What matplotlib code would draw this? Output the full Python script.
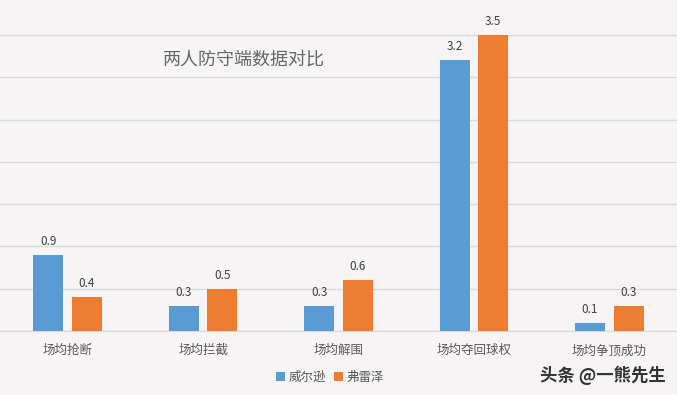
import matplotlib.pyplot as plt
import numpy as np

plt.rcParams['font.family'] = ['Noto Sans CJK SC', 'DejaVu Sans']

categories = ['场均抢断', '场均拦截', '场均解围', '场均夺回球权', '场均争顶成功']
wilson = [0.9, 0.3, 0.3, 3.2, 0.1]
fraser = [0.4, 0.5, 0.6, 3.5, 0.3]
series_names = ['威尔逊', '弗雷泽']

blue = '#5B9BD5'
orange = '#ED7D31'
bg = '#F6F4F4'

fig = plt.figure(figsize=(6.77, 3.95), dpi=100, facecolor=bg)
ax = fig.add_axes([0, 64 / 395, 1, 331 / 395])
ax.set_facecolor(bg)

x = np.arange(len(categories))
w = 0.222
b1 = ax.bar(x - 0.143, wilson, w, color=blue, label=series_names[0], zorder=3)
b2 = ax.bar(x + 0.143, fraser, w, color=orange, label=series_names[1], zorder=3)

for bars, vals in ((b1, wilson), (b2, fraser)):
    for r, v in zip(bars, vals):
        ax.annotate(f'{v}', (r.get_x() + r.get_width() / 2, v),
                    xytext=(0, 5), textcoords='offset points',
                    ha='center', va='bottom', fontsize=8.5, color='#404040')

ax.set_xlim(-0.5, 4.5)
ax.set_ylim(0, 331 / 84.6)
ax.set_yticks(np.arange(0, 3.6, 0.5))
ax.yaxis.grid(True, color='#DCDCDC', lw=1, zorder=0)
ax.tick_params(axis='y', left=False, labelleft=False)
ax.tick_params(axis='x', bottom=False, pad=6, labelsize=9, labelcolor='#595959')
ax.set_xticks(x)
ax.set_xticklabels(categories)
for s in ['top', 'right', 'left']:
    ax.spines[s].set_visible(False)
ax.spines['bottom'].set_color('#D9D9D9')

fig.text(163 / 677, 1 - 60 / 395, '两人防守端数据对比', fontsize=13, color='#666666',
         ha='left', va='center', fontweight='light')

fig.legend(handles=[b1, b2], loc='center', bbox_to_anchor=(330 / 677, 1 - 377 / 395),
           ncol=2, frameon=False, fontsize=9, handlelength=0.7, handleheight=0.7,
           handletextpad=0.3, columnspacing=0.6, labelcolor='#595959')

fig.text(540 / 677, 1 - 375 / 395, '头条 @一熊先生', fontsize=12.5, color='#333333',
         ha='left', va='center', fontweight='bold')

fig.savefig('out.png', dpi=100, facecolor=bg)
